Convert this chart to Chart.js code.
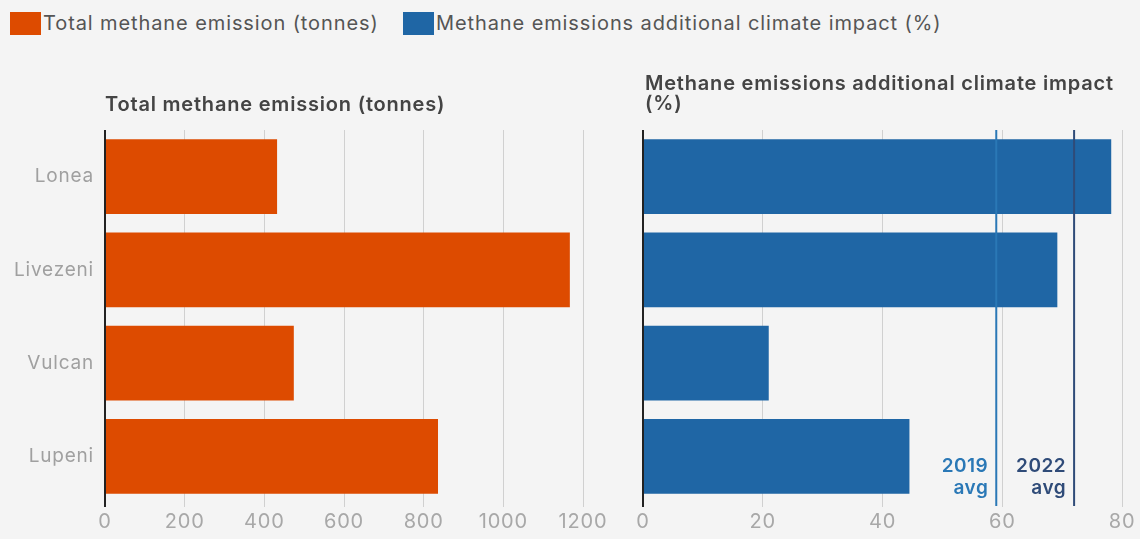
<!DOCTYPE html>
<html><head><meta charset="utf-8">
<script src="https://cdn.jsdelivr.net/npm/chart.js@4/dist/chart.umd.min.js"></script>
<style>
html,body{margin:0;padding:0;background:#f4f4f4;width:1140px;height:539px;overflow:hidden;font-family:Inter,"Open Sans",sans-serif;}
#c1{position:absolute;left:0;top:0;}
#c2{position:absolute;left:620px;top:0;}
.leg{position:absolute;top:10px;height:26px;display:flex;align-items:center;font-size:20px;color:#555;letter-spacing:0.9px;}
.leg span.box{display:inline-block;width:31px;height:23px;margin-right:2px;}
</style></head><body>
<div class="leg" style="left:10px"><span class="box" style="background:#dd4b00"></span>Total methane emission (tonnes)</div>
<div class="leg" style="left:403px"><span class="box" style="background:#1f66a5"></span>Methane emissions additional climate impact (%)</div>
<canvas id="c1" width="620" height="539"></canvas>
<canvas id="c2" width="520" height="539"></canvas>
<script>
const categories = ["Lonea","Livezeni","Vulcan","Lupeni"];
const emissionTonnes = [432, 1167, 474, 836];
const climateImpactPct = [78.2, 69.2, 21, 44.5];
const avgLines = [{label:["2019","avg"], value:59, color:"#2a78b6"},{label:["2022","avg"], value:72, color:"#2f4b78"}];

const FONT = 'Inter, "Open Sans", sans-serif';
Chart.defaults.font.family = FONT;
Chart.defaults.animation = false;

const spacingPlugin = {
  id:'spacing',
  beforeDraw(chart){ chart.ctx.letterSpacing = '0.8px'; }
};
const titlePlugin = {
  id:'ptitle',
  afterDraw(chart, args, opts){
    const ctx = chart.ctx, a = chart.chartArea;
    ctx.save();
    ctx.letterSpacing = '0.8px';
    ctx.font = '600 20px ' + FONT;
    ctx.fillStyle = '#444';
    ctx.textAlign='left'; ctx.textBaseline='alphabetic';
    const lines = opts.lines || [];
    lines.forEach((l,i)=>{ ctx.fillText(l, a.left+(opts.dx||0), opts.y + i*20); });
    ctx.restore();
  }
};
const avgPlugin = {
  id:'avgs',
  afterDatasetsDraw(chart, args, opts){
    if(!opts.lines) return;
    const ctx = chart.ctx, a = chart.chartArea, xs = chart.scales.x;
    ctx.save();
    opts.lines.forEach(l=>{
      const x = xs.getPixelForValue(l.value);
      ctx.strokeStyle = l.color; ctx.lineWidth = 2;
      ctx.beginPath(); ctx.moveTo(x, a.top); ctx.lineTo(x, a.bottom+3); ctx.stroke();
      ctx.fillStyle = l.color; ctx.font = '600 19px ' + FONT;
      ctx.letterSpacing = '0.5px';
      ctx.textAlign='right'; ctx.textBaseline='alphabetic';
      ctx.fillText(l.label[0], x-8, a.bottom-31);
      ctx.fillText(l.label[1], x-8, a.bottom-9);
    });
    ctx.restore();
  }
};

function makeOpts(max, step, yLabels, padLeft, padRight, yWidth){
  return {
    responsive:false, maintainAspectRatio:false, indexAxis:'y',
    layout:{padding:{top:130,bottom:0,left:padLeft,right:padRight}},
    plugins:{legend:{display:false},tooltip:{enabled:false}},
    scales:{
      x:{min:0,max:max,
        ticks:{stepSize:step,color:'#a8a8a8',font:{size:20},padding:3,callback:(v)=>String(v)},
        grid:{color:(c)=>c.tick && c.tick.value===0 ? '#222' : '#d0d0d0', lineWidth:(c)=>c.tick && c.tick.value===0 ? 2 : 1, tickLength:4, drawTicks:true},
        border:{display:false},
        afterFit:(s)=>{ s.height = 36; }},
      y:{display:yLabels?true:false, grid:{display:false}, border:{display:false},
        ticks:{color:'#a0a0a0',font:{size:19},padding:3},
        afterFit:(s)=>{ if(yWidth!==undefined) s.width=yWidth; }}
    }
  };
}

const o1 = makeOpts(1200,200,true,0,37,105);
o1.plugins.ptitle = {lines:["Total methane emission (tonnes)"], y:111, dx:0};
new Chart(document.getElementById('c1'),{
  type:'bar',
  data:{labels:categories,datasets:[{data:emissionTonnes,backgroundColor:'#dd4b00',barPercentage:0.8,categoryPercentage:1}]},
  options:o1, plugins:[spacingPlugin, titlePlugin]
});

const o2 = makeOpts(80,20,false,23,18);
o2.plugins.ptitle = {lines:["Methane emissions additional climate impact","(%)"], y:90, dx:2};
o2.plugins.avgs = {lines:avgLines};
new Chart(document.getElementById('c2'),{
  type:'bar',
  data:{labels:categories,datasets:[{data:climateImpactPct,backgroundColor:'#1f66a5',barPercentage:0.8,categoryPercentage:1}]},
  options:o2, plugins:[spacingPlugin, titlePlugin, avgPlugin]
});
</script>
</body></html>
